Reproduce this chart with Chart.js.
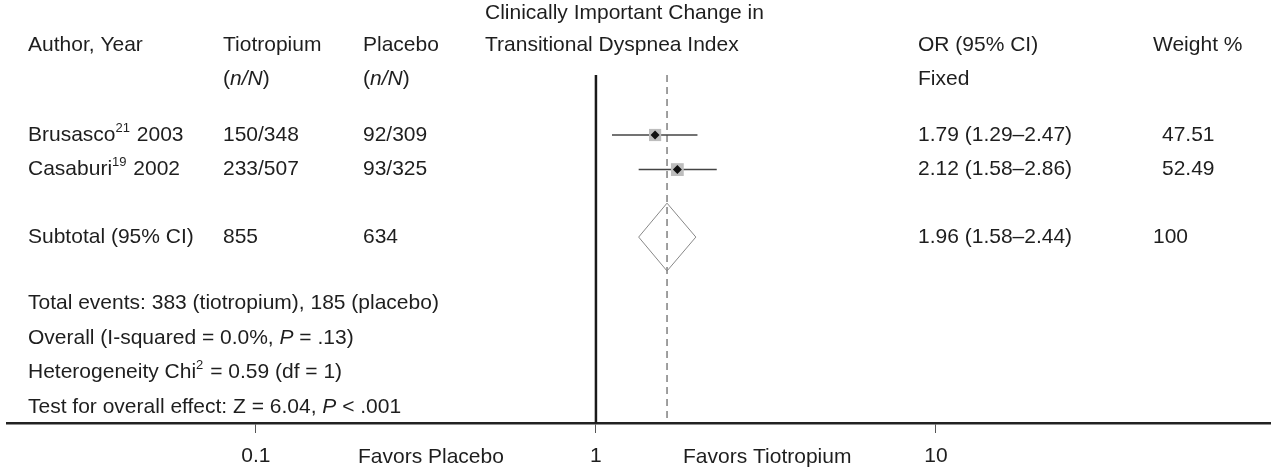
<!DOCTYPE html>
<html>
<head>
<meta charset="utf-8">
<script src="https://cdn.jsdelivr.net/npm/chart.js@4.4.1/dist/chart.umd.min.js"></script>
<style>
  html, body { margin: 0; padding: 0; background: #fff; }
  #wrap { width: 1271px; height: 468px; }
</style>
</head>
<body>
<div id="wrap"><canvas id="forest" width="1271" height="468"></canvas></div>
<script>
// studies
const authors = ['Brusasco', 'Casaburi'];
const refNums = ['21', '19'];
const years = ['2003', '2002'];
const tioEvents = [150, 233];
const tioTotal = [348, 507];
const plaEvents = [92, 93];
const plaTotal = [309, 325];
const oddsRatio = [1.79, 2.12];
const ciLow = [1.29, 1.58];
const ciHigh = [2.47, 2.86];
const weights = [47.51, 52.49];

// pooled, fixed effect
const pooledOR = 1.96;
const pooledLow = 1.58;
const pooledHigh = 2.44;

const axisTicks = [0.1, 1, 10];

const FONT = '"Liberation Sans", Arial, sans-serif';
const FS = 21;
const INK = '#1e1e1e';

// layout (row units on the y scale, 0 = first study)
const ROW_POOLED = 2.95;
const DIAMOND_HALF = 0.98;
const Y_MIN = -1.734, Y_MAX = 8.324;
const COL = { author: 28, tio: 223, pla: 363, title: 485, or: 918, weight: 1162, weightTotal: 1153 };

const fmt = v => v.toFixed(2);
const sum = a => a.reduce((s, v) => s + v, 0);

// CI whiskers, one dataset per study
const ciSets = authors.map((a, i) => ({
  data: [{ x: ciLow[i], y: i }, { x: ciHigh[i], y: i }],
  xAxisID: 'x', showLine: true, borderColor: '#444', borderWidth: 1.5, pointRadius: 0, order: 3
}));

const squares = {
  data: oddsRatio.map((v, i) => ({ x: v, y: i })),
  xAxisID: 'x', pointStyle: 'rect', backgroundColor: '#bdbdbd', borderWidth: 0,
  pointRadius: weights.map(w => 1.25 * Math.sqrt(w)), order: 2
};

const dots = {
  data: oddsRatio.map((v, i) => ({ x: v, y: i })),
  xAxisID: 'x', pointStyle: 'rectRot', backgroundColor: '#111', borderWidth: 0, pointRadius: 4.5, order: 1
};

const diamond = {
  data: [
    { x: pooledLow, y: ROW_POOLED }, { x: pooledOR, y: ROW_POOLED - DIAMOND_HALF },
    { x: pooledHigh, y: ROW_POOLED }, { x: pooledOR, y: ROW_POOLED + DIAMOND_HALF },
    { x: pooledLow, y: ROW_POOLED }
  ],
  xAxisID: 'x', showLine: true, borderColor: '#888', borderWidth: 1, pointRadius: 0, fill: false, order: 3
};

const pooledLine = {
  data: [{ x: pooledOR, y: Y_MIN }, { x: pooledOR, y: 8.2 }],
  xAxisID: 'x', showLine: true, borderColor: '#777', borderWidth: 1.4, borderDash: [7, 5], pointRadius: 0, order: 4
};

const nullLine = {
  data: [{ x: 1, y: Y_MIN }, { x: 1, y: Y_MAX }],
  xAxisID: 'x2', showLine: true, borderColor: '#1a1a1a', borderWidth: 2.5, pointRadius: 0, order: 4
};

const statLines = [
  [{ t: `Total events: ${sum(tioEvents)} (tiotropium), ${sum(plaEvents)} (placebo)` }],
  [{ t: 'Overall (I-squared = 0.0%, ' }, { t: 'P', i: true }, { t: ' = .13)' }],
  [{ t: 'Heterogeneity Chi' }, { t: '2', sup: true }, { t: ' = 0.59 (df = 1)' }],
  [{ t: 'Test for overall effect: Z = 6.04, ' }, { t: 'P', i: true }, { t: ' < .001' }]
];

function drawRich(ctx, segs, x, y) {
  let cx = x;
  segs.forEach(s => {
    const fs = s.sup ? 13 : FS;
    ctx.font = `${s.i ? 'italic ' : ''}${fs}px ${FONT}`;
    ctx.fillText(s.t, cx, s.sup ? y - 7 : y);
    cx += ctx.measureText(s.t).width + (s.sup ? 1 : 0);
  });
}

const tablePlugin = {
  id: 'table',
  afterDraw(chart) {
    const ctx = chart.ctx;
    const yp = r => chart.scales.y.getPixelForValue(r);
    ctx.save();
    ctx.fillStyle = INK;
    ctx.textBaseline = 'middle';
    ctx.textAlign = 'left';
    const nN = [{ t: '(' }, { t: 'n/N', i: true }, { t: ')' }];

    // header
    drawRich(ctx, [{ t: 'Author, Year' }], COL.author, yp(-2.6));
    drawRich(ctx, [{ t: 'Tiotropium' }], COL.tio, yp(-2.6));
    drawRich(ctx, nN, COL.tio, yp(-1.6));
    drawRich(ctx, [{ t: 'Placebo' }], COL.pla, yp(-2.6));
    drawRich(ctx, nN, COL.pla, yp(-1.6));
    drawRich(ctx, [{ t: 'Clinically Important Change in' }], COL.title, yp(-3.52));
    drawRich(ctx, [{ t: 'Transitional Dyspnea Index' }], COL.title, yp(-2.6));
    drawRich(ctx, [{ t: 'OR (95% CI)' }], COL.or, yp(-2.6));
    drawRich(ctx, [{ t: 'Fixed' }], COL.or, yp(-1.6));
    drawRich(ctx, [{ t: 'Weight %' }], COL.weightTotal, yp(-2.6));

    // study rows
    authors.forEach((a, i) => {
      const y = yp(i);
      drawRich(ctx, [{ t: a }, { t: refNums[i], sup: true }, { t: ' ' + years[i] }], COL.author, y);
      drawRich(ctx, [{ t: `${tioEvents[i]}/${tioTotal[i]}` }], COL.tio, y);
      drawRich(ctx, [{ t: `${plaEvents[i]}/${plaTotal[i]}` }], COL.pla, y);
      drawRich(ctx, [{ t: `${fmt(oddsRatio[i])} (${fmt(ciLow[i])}–${fmt(ciHigh[i])})` }], COL.or, y);
      drawRich(ctx, [{ t: fmt(weights[i]) }], COL.weight, y);
    });

    // subtotal
    const ys = yp(ROW_POOLED);
    drawRich(ctx, [{ t: 'Subtotal (95% CI)' }], COL.author, ys);
    drawRich(ctx, [{ t: String(sum(tioTotal)) }], COL.tio, ys);
    drawRich(ctx, [{ t: String(sum(plaTotal)) }], COL.pla, ys);
    drawRich(ctx, [{ t: `${fmt(pooledOR)} (${fmt(pooledLow)}–${fmt(pooledHigh)})` }], COL.or, ys);
    drawRich(ctx, [{ t: String(Math.round(sum(weights))) }], COL.weightTotal, ys);

    statLines.forEach((segs, k) => drawRich(ctx, segs, COL.author, yp(4.86 + k)));

    // favours labels, on the tick label line
    const yl = yp(9.3);
    drawRich(ctx, [{ t: 'Favors Placebo' }], 358, yl);
    drawRich(ctx, [{ t: 'Favors Tiotropium' }], 683, yl);
    ctx.restore();
  }
};

new Chart(document.getElementById('forest'), {
  type: 'scatter',
  data: { datasets: [...ciSets, squares, dots, diamond, pooledLine, nullLine] },
  options: {
    responsive: false,
    devicePixelRatio: 1,
    animation: false,
    layout: { autoPadding: false, padding: { left: 7, right: 0, top: 75, bottom: 1 } },
    plugins: { legend: { display: false }, tooltip: { enabled: false } },
    scales: {
      x: { type: 'logarithmic', display: false, min: 0.013, max: 193 },
      x2: {
        type: 'logarithmic', position: 'bottom', min: 0.01853, max: 96.7,
        afterBuildTicks: s => { s.ticks = axisTicks.map(v => ({ value: v })); },
        afterFit: s => { s.height = 44; },
        ticks: {
          callback: v => String(v), autoSkip: false, maxRotation: 0,
          font: { family: FONT, size: FS }, color: INK, padding: 11
        },
        grid: { drawOnChartArea: false, tickLength: 10, color: '#555', lineWidth: 1 },
        border: { display: true, color: '#222', width: 2.5 }
      },
      y: { type: 'linear', display: false, reverse: true, min: Y_MIN, max: Y_MAX }
    }
  },
  plugins: [tablePlugin]
});
</script>
</body>
</html>
